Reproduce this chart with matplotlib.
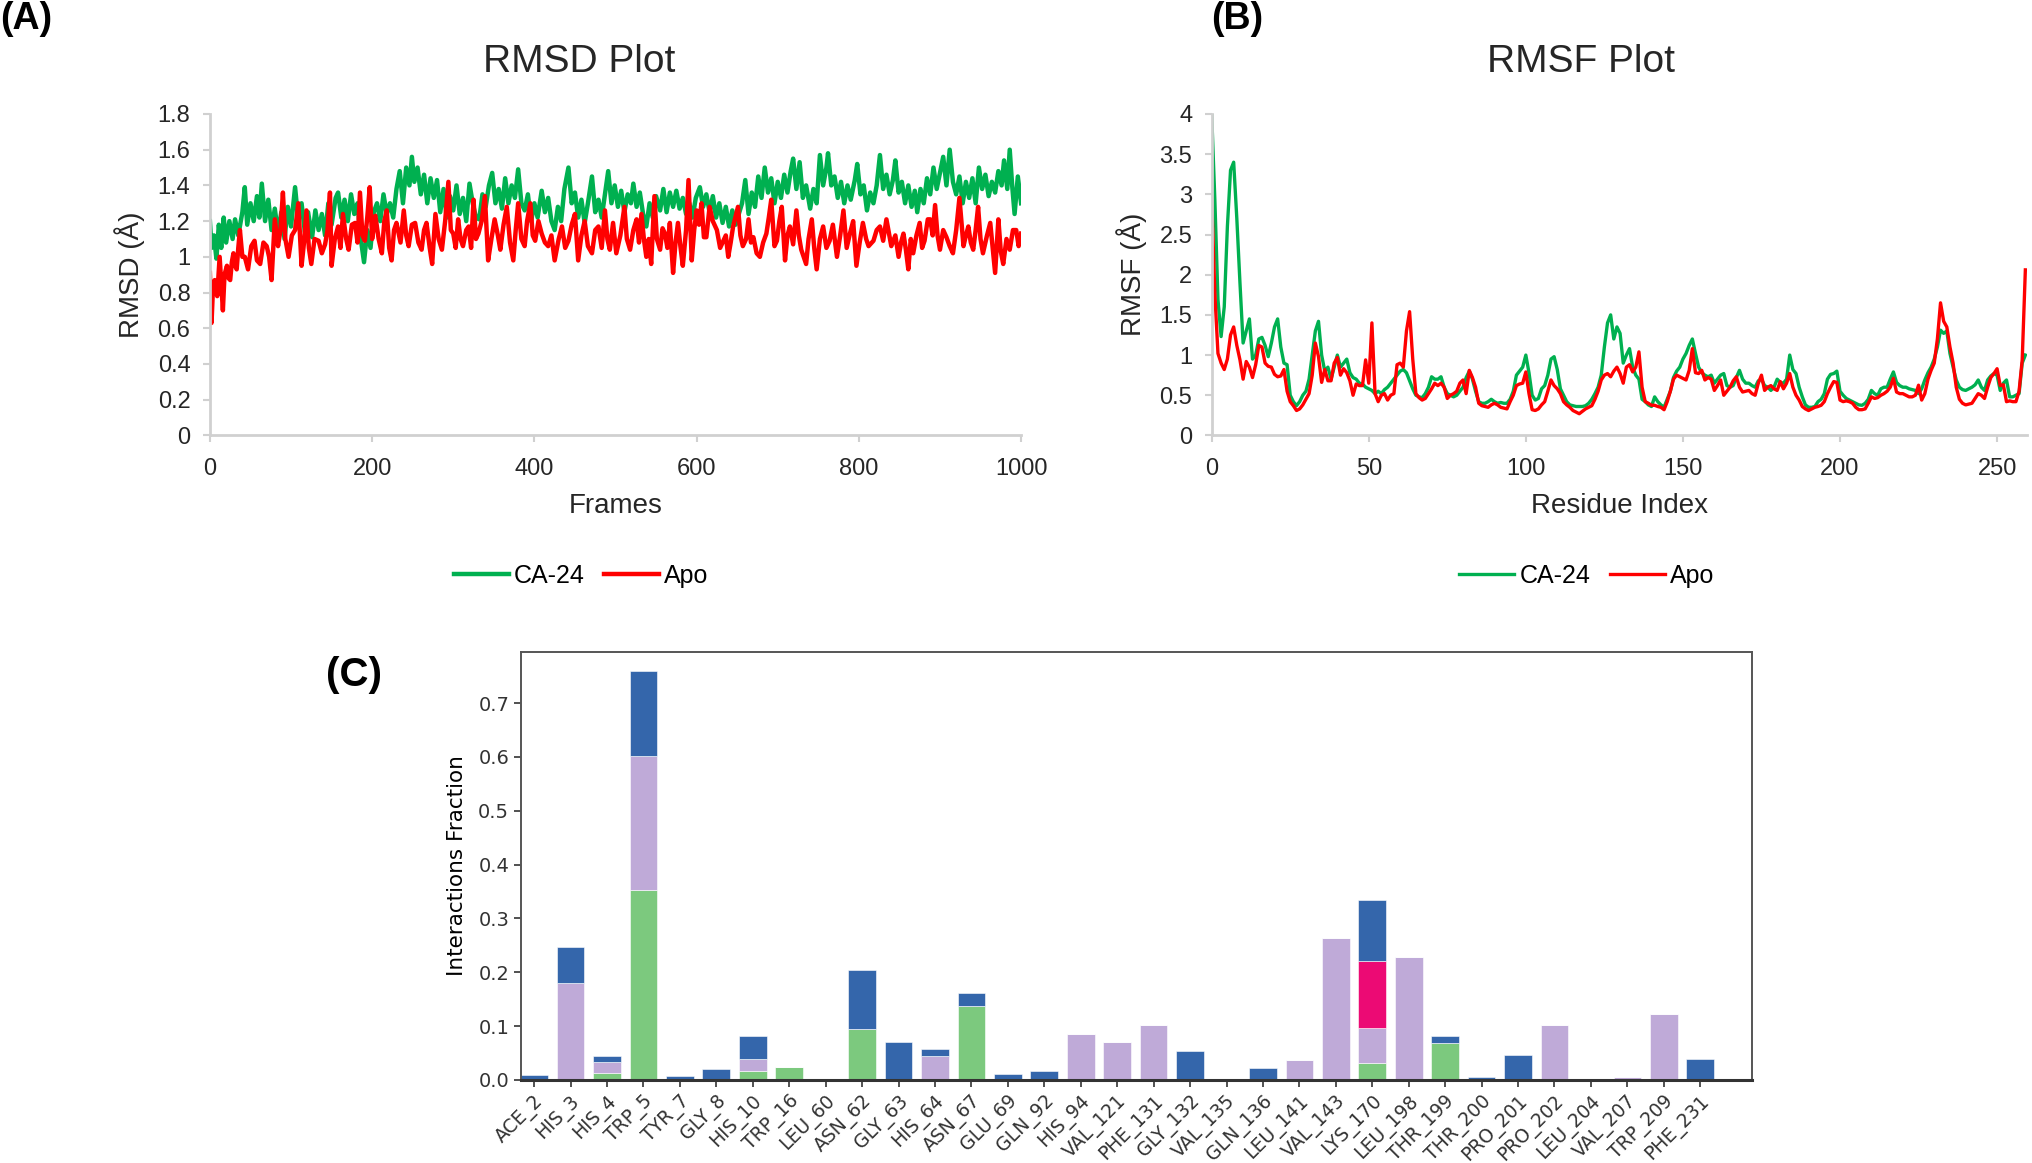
import numpy as np
import matplotlib
matplotlib.use("Agg")
import matplotlib.pyplot as plt

# ---- RMSD: (frame, value) ----
ca24_points = [
    (0, 1.20), (2, 1.05), (5, 1.12), (8, 0.99), (11, 1.18), (14, 1.05), (17, 1.22), (20, 1.08), (24, 1.20), (28, 1.10),
    (31, 1.21), (35, 1.12), (40, 1.25), (43, 1.39), (46, 1.18), (50, 1.30), (54, 1.20), (58, 1.34), (61, 1.22), (64, 1.41),
    (68, 1.20), (72, 1.32), (76, 1.15), (80, 1.27), (84, 1.13), (88, 1.25), (92, 1.10), (96, 1.28), (100, 1.17), (105, 1.39),
    (109, 1.20), (113, 1.30), (117, 1.14), (121, 1.25), (126, 1.11), (130, 1.26), (134, 1.15), (138, 1.24), (142, 1.12), (146, 1.30),
    (150, 1.18), (155, 1.33), (158, 1.36), (162, 1.22), (166, 1.32), (170, 1.20), (174, 1.35), (178, 1.24), (182, 1.30), (186, 1.10),
    (190, 0.97), (194, 1.15), (198, 1.05), (202, 1.25), (206, 1.30), (210, 1.20), (214, 1.35), (218, 1.24), (222, 1.30), (226, 1.22),
    (230, 1.38), (234, 1.48), (238, 1.30), (242, 1.50), (246, 1.40), (249, 1.56), (252, 1.42), (256, 1.50), (260, 1.35), (264, 1.46),
    (268, 1.30), (272, 1.44), (276, 1.33), (280, 1.43), (284, 1.25), (288, 1.38), (292, 1.22), (296, 1.34), (300, 1.26), (304, 1.40),
    (308, 1.24), (312, 1.33), (316, 1.20), (320, 1.41), (324, 1.30), (328, 1.22), (332, 1.21), (336, 1.35), (340, 1.28), (344, 1.40),
    (348, 1.47), (352, 1.30), (356, 1.38), (360, 1.27), (364, 1.44), (368, 1.30), (372, 1.40), (376, 1.33), (380, 1.49), (384, 1.30),
    (388, 1.26), (392, 1.35), (396, 1.20), (400, 1.30), (404, 1.22), (409, 1.37), (413, 1.25), (417, 1.33), (421, 1.20), (425, 1.15),
    (429, 1.28), (433, 1.20), (437, 1.38), (442, 1.50), (446, 1.30), (450, 1.36), (454, 1.22), (458, 1.32), (462, 1.19), (466, 1.30),
    (471, 1.45), (475, 1.25), (479, 1.32), (483, 1.22), (487, 1.35), (491, 1.48), (495, 1.30), (499, 1.40), (503, 1.28), (507, 1.37),
    (511, 1.25), (515, 1.35), (519, 1.30), (522, 1.41), (526, 1.28), (530, 1.36), (534, 1.24), (538, 1.17), (542, 1.30), (546, 1.22),
    (550, 1.34), (555, 1.26), (559, 1.38), (563, 1.25), (567, 1.36), (571, 1.28), (575, 1.37), (579, 1.27), (583, 1.33), (587, 1.24),
    (591, 1.30), (595, 1.22), (599, 1.33), (604, 1.39), (608, 1.28), (612, 1.35), (616, 1.25), (620, 1.34), (624, 1.22), (628, 1.30),
    (632, 1.19), (636, 1.28), (640, 1.17), (644, 1.26), (648, 1.18), (652, 1.24), (656, 1.30), (660, 1.43), (664, 1.24), (668, 1.36),
    (672, 1.28), (676, 1.45), (680, 1.33), (684, 1.50), (688, 1.36), (692, 1.44), (696, 1.30), (700, 1.42), (704, 1.33), (708, 1.46),
    (712, 1.36), (716, 1.48), (719, 1.55), (723, 1.38), (727, 1.53), (731, 1.33), (735, 1.40), (740, 1.27), (744, 1.38), (748, 1.30),
    (752, 1.57), (756, 1.40), (760, 1.50), (762, 1.58), (766, 1.40), (770, 1.45), (774, 1.33), (778, 1.42), (782, 1.30), (786, 1.40),
    (790, 1.32), (795, 1.43), (798, 1.52), (802, 1.35), (806, 1.40), (810, 1.26), (814, 1.36), (818, 1.30), (822, 1.40), (826, 1.57),
    (830, 1.38), (834, 1.46), (838, 1.35), (842, 1.43), (845, 1.54), (849, 1.36), (853, 1.42), (857, 1.30), (861, 1.40), (865, 1.28),
    (869, 1.37), (872, 1.25), (876, 1.38), (880, 1.30), (884, 1.44), (888, 1.35), (892, 1.50), (896, 1.38), (900, 1.47), (904, 1.56),
    (908, 1.40), (912, 1.60), (916, 1.42), (920, 1.35), (924, 1.45), (928, 1.30), (932, 1.42), (936, 1.33), (940, 1.44), (944, 1.30),
    (948, 1.50), (952, 1.38), (956, 1.46), (960, 1.34), (964, 1.42), (968, 1.36), (972, 1.48), (976, 1.40), (979, 1.54), (983, 1.38),
    (986, 1.60), (989, 1.40), (992, 1.24), (996, 1.45), (1000, 1.30),
]
apo_points = [
    (0, 0.91), (2, 0.63), (4, 0.85), (6, 0.87), (9, 0.78), (12, 1.00), (14, 0.85), (16, 0.70), (18, 0.90), (21, 0.95),
    (23, 0.88), (25, 0.87), (27, 0.97), (29, 1.02), (31, 0.95), (33, 0.93), (35, 1.05), (37, 1.15), (40, 1.00), (43, 1.00),
    (47, 0.93), (51, 1.06), (55, 1.09), (58, 0.98), (62, 0.96), (66, 1.08), (70, 1.06), (73, 1.00), (76, 0.87), (80, 1.21),
    (84, 1.06), (87, 1.15), (90, 1.36), (93, 1.10), (97, 1.00), (101, 1.12), (105, 1.15), (109, 1.30), (113, 0.95), (116, 1.08),
    (119, 1.26), (122, 1.05), (125, 0.96), (129, 1.10), (134, 1.09), (138, 1.02), (142, 1.07), (145, 1.15), (148, 1.36), (150, 0.95),
    (154, 1.10), (158, 1.17), (161, 1.05), (164, 1.24), (168, 1.10), (171, 1.04), (175, 1.18), (179, 1.19), (182, 1.08), (185, 1.36),
    (188, 1.12), (191, 1.09), (194, 1.22), (197, 1.39), (200, 1.10), (204, 1.23), (208, 1.10), (212, 1.02), (215, 1.20), (218, 1.26),
    (221, 1.05), (224, 0.98), (227, 1.15), (230, 1.19), (235, 1.08), (239, 1.26), (242, 1.12), (245, 1.06), (249, 1.18), (253, 1.19),
    (257, 1.08), (261, 1.04), (264, 1.15), (267, 1.19), (271, 1.05), (274, 0.96), (278, 1.24), (282, 1.10), (286, 1.04), (290, 1.20),
    (294, 1.42), (297, 1.15), (300, 1.13), (303, 1.05), (306, 1.21), (309, 1.10), (312, 1.06), (316, 1.15), (319, 1.17), (322, 1.05),
    (325, 1.32), (328, 1.10), (331, 1.13), (335, 1.20), (339, 1.34), (343, 0.98), (347, 1.10), (351, 1.21), (355, 1.12), (358, 1.04),
    (362, 1.18), (366, 1.28), (370, 1.08), (374, 0.98), (377, 1.15), (380, 1.30), (384, 1.10), (388, 1.06), (391, 1.20), (395, 1.30),
    (398, 1.12), (401, 1.09), (405, 1.20), (409, 1.13), (413, 1.08), (417, 1.06), (421, 1.12), (425, 0.98), (430, 1.10), (434, 1.17),
    (438, 1.05), (442, 1.09), (446, 1.18), (450, 1.24), (454, 0.98), (458, 1.12), (462, 1.20), (466, 1.06), (471, 1.02), (475, 1.15),
    (479, 1.17), (483, 1.05), (487, 1.26), (490, 1.10), (493, 1.04), (497, 1.19), (501, 1.02), (506, 1.12), (511, 1.28), (514, 1.10),
    (518, 1.04), (522, 1.15), (526, 1.21), (529, 1.08), (532, 1.24), (535, 1.10), (538, 1.00), (541, 1.10), (544, 0.96), (548, 1.34),
    (551, 1.10), (555, 1.04), (558, 1.16), (561, 1.13), (564, 1.05), (567, 1.19), (571, 0.91), (574, 1.08), (577, 1.19), (580, 1.06),
    (583, 0.95), (587, 1.15), (590, 1.43), (594, 0.98), (597, 1.15), (600, 1.26), (603, 1.18), (606, 1.30), (609, 1.11), (612, 1.11),
    (616, 1.28), (620, 1.20), (625, 1.15), (629, 1.05), (633, 1.09), (636, 1.12), (639, 1.00), (642, 1.08), (645, 1.17), (651, 1.28),
    (654, 1.12), (657, 1.06), (661, 1.10), (664, 1.21), (667, 1.08), (670, 1.11), (674, 1.02), (678, 1.00), (682, 1.08), (686, 1.13),
    (689, 1.22), (692, 1.32), (696, 1.06), (699, 1.09), (702, 1.20), (705, 1.28), (709, 0.98), (712, 1.12), (715, 1.17), (719, 1.07),
    (723, 1.26), (726, 1.12), (729, 1.04), (735, 0.96), (738, 1.10), (742, 1.21), (745, 1.05), (748, 0.93), (752, 1.10), (756, 1.17),
    (760, 1.05), (764, 1.09), (768, 1.18), (773, 1.00), (777, 1.12), (781, 1.26), (785, 1.05), (789, 1.13), (793, 1.20), (797, 0.95),
    (801, 1.08), (805, 1.19), (809, 1.10), (812, 1.06), (818, 1.09), (822, 1.15), (826, 1.17), (830, 1.09), (834, 1.21), (840, 1.06),
    (845, 1.12), (849, 1.00), (852, 1.08), (855, 1.13), (858, 1.04), (861, 0.93), (864, 1.10), (867, 1.02), (871, 1.12), (875, 1.19),
    (878, 1.05), (881, 1.09), (885, 1.21), (888, 1.21), (891, 1.12), (894, 1.29), (897, 1.12), (900, 1.04), (904, 1.15), (908, 1.11),
    (912, 1.06), (916, 1.02), (920, 1.15), (924, 1.33), (929, 1.06), (932, 1.12), (935, 1.17), (938, 1.08), (941, 1.04), (944, 1.15),
    (947, 1.28), (950, 1.10), (953, 1.02), (958, 1.12), (962, 1.19), (965, 1.05), (968, 0.91), (972, 1.21), (975, 1.03), (978, 0.96),
    (982, 1.10), (986, 1.04), (990, 1.15), (994, 1.15), (997, 1.06), (1000, 1.13),
]
ca24_frames, ca24_rmsd = zip(*ca24_points)
apo_frames, apo_rmsd = zip(*apo_points)

# ---- RMSF per residue (10 residues per row, starting at 0) ----
ca24_rmsf = [
    4.0, 2.94, 1.69, 1.23, 1.6, 2.6, 3.3, 3.4, 2.7, 1.9,
    1.15, 1.3, 1.45, 0.95, 1.0, 1.2, 1.22, 1.12, 0.98, 1.15,
    1.35, 1.45, 1.1, 0.9, 0.88, 0.5, 0.42, 0.37, 0.42, 0.5,
    0.55, 0.7, 1.0, 1.3, 1.42, 1.0, 0.8, 0.85, 0.7, 0.85,
    1.0, 0.85, 0.9, 0.95, 0.78, 0.72, 0.7, 0.65, 0.64, 0.6,
    0.58, 0.56, 0.52, 0.55, 0.52, 0.57, 0.6, 0.65, 0.7, 0.75,
    0.8, 0.82, 0.78, 0.68, 0.58, 0.5, 0.48, 0.47, 0.52, 0.6,
    0.73, 0.7, 0.7, 0.73, 0.6, 0.52, 0.5, 0.48, 0.5, 0.55,
    0.6, 0.72, 0.8, 0.7, 0.55, 0.42, 0.4, 0.4, 0.42, 0.45,
    0.42, 0.4, 0.41, 0.4, 0.4, 0.45, 0.55, 0.75, 0.8, 0.85,
    1.0, 0.78, 0.5, 0.44, 0.46, 0.58, 0.62, 0.75, 0.95, 0.98,
    0.82, 0.58, 0.5, 0.42, 0.38, 0.37, 0.36, 0.36, 0.36, 0.37,
    0.4, 0.45, 0.52, 0.6, 0.75, 1.1, 1.4, 1.5, 1.2, 1.35,
    1.27, 0.9, 1.0, 1.08, 0.85, 0.75, 0.7, 0.45, 0.42, 0.38,
    0.36, 0.48, 0.42, 0.38, 0.35, 0.45, 0.55, 0.72, 0.8, 0.85,
    0.95, 1.02, 1.12, 1.2, 1.02, 0.85, 0.78, 0.75, 0.73, 0.75,
    0.65, 0.7, 0.75, 0.77, 0.62, 0.6, 0.62, 0.72, 0.81, 0.7,
    0.65, 0.65, 0.62, 0.6, 0.68, 0.7, 0.62, 0.6, 0.56, 0.6,
    0.7, 0.66, 0.65, 0.7, 1.0, 0.82, 0.77, 0.6, 0.48, 0.38,
    0.35, 0.35, 0.36, 0.42, 0.45, 0.52, 0.7, 0.76, 0.77, 0.8,
    0.55, 0.5, 0.46, 0.44, 0.42, 0.4, 0.38, 0.375, 0.4, 0.45,
    0.56, 0.52, 0.5, 0.58, 0.6, 0.6, 0.7, 0.79, 0.66, 0.62,
    0.6, 0.6, 0.58, 0.57, 0.56, 0.52, 0.58, 0.69, 0.78, 0.85,
    0.95, 1.1, 1.31, 1.27, 1.3, 1.02, 0.85, 0.69, 0.6, 0.57,
    0.56, 0.58, 0.6, 0.63, 0.69, 0.6, 0.56, 0.69, 0.74, 0.77,
    0.75, 0.56, 0.65, 0.69, 0.48, 0.48, 0.5, 0.52, 0.9, 1.0,
]
apo_rmsf = [
    2.96, 1.77, 1.02, 0.9, 0.82, 0.95, 1.25, 1.35, 1.12, 0.94,
    0.7, 0.92, 0.85, 0.72, 0.88, 1.12, 1.1, 0.9, 0.86, 0.85,
    0.76, 0.73, 0.74, 0.82, 0.55, 0.42, 0.37, 0.31, 0.33, 0.38,
    0.45, 0.52, 0.75, 1.15, 0.98, 0.66, 0.82, 0.68, 0.68, 0.9,
    0.97, 0.75, 0.83, 0.78, 0.68, 0.5, 0.64, 0.62, 0.62, 0.94,
    0.65, 1.40, 0.52, 0.42, 0.5, 0.52, 0.44, 0.5, 0.52, 0.88,
    0.9, 0.85, 1.3, 1.54, 0.95, 0.52, 0.47, 0.44, 0.46, 0.52,
    0.58, 0.65, 0.62, 0.65, 0.6, 0.46, 0.5, 0.52, 0.55, 0.65,
    0.69, 0.52, 0.81, 0.72, 0.6, 0.4, 0.37, 0.36, 0.35, 0.38,
    0.4, 0.38, 0.35, 0.34, 0.33, 0.42, 0.5, 0.62, 0.64, 0.65,
    0.79, 0.52, 0.32, 0.31, 0.33, 0.38, 0.42, 0.55, 0.69, 0.62,
    0.58, 0.52, 0.42, 0.38, 0.35, 0.31, 0.29, 0.27, 0.3, 0.33,
    0.35, 0.37, 0.45, 0.55, 0.69, 0.75, 0.77, 0.73, 0.8, 0.85,
    0.77, 0.65, 0.85, 0.88, 0.79, 0.85, 1.04, 0.6, 0.42, 0.4,
    0.375, 0.375, 0.36, 0.35, 0.32, 0.42, 0.55, 0.7, 0.75, 0.73,
    0.71, 0.69, 0.81, 1.08, 0.78, 0.77, 0.81, 0.69, 0.72, 0.7,
    0.56, 0.62, 0.69, 0.5, 0.55, 0.6, 0.68, 0.73, 0.6, 0.54,
    0.55, 0.56, 0.52, 0.5, 0.65, 0.75, 0.56, 0.6, 0.62, 0.58,
    0.56, 0.67, 0.58, 0.65, 0.77, 0.6, 0.5, 0.44, 0.36, 0.33,
    0.31, 0.33, 0.35, 0.36, 0.375, 0.42, 0.52, 0.6, 0.67, 0.66,
    0.44, 0.42, 0.43, 0.42, 0.4, 0.35, 0.32, 0.32, 0.33, 0.4,
    0.48, 0.46, 0.47, 0.5, 0.52, 0.55, 0.6, 0.71, 0.54, 0.52,
    0.52, 0.5, 0.48, 0.48, 0.5, 0.625, 0.44, 0.52, 0.7, 0.81,
    0.9, 1.2, 1.65, 1.42, 1.35, 1.1, 0.9, 0.6, 0.45, 0.4,
    0.38, 0.39, 0.4, 0.46, 0.52, 0.5, 0.46, 0.6, 0.72, 0.77,
    0.83, 0.62, 0.63, 0.42, 0.43, 0.42, 0.42, 0.55, 0.94, 2.06,
]
residues = list(range(len(ca24_rmsf)))

# ---- Protein-ligand contact fractions (11 per row) ----
contacts = ['ACE_2', 'HIS_3', 'HIS_4', 'TRP_5', 'TYR_7', 'GLY_8', 'HIS_10', 'TRP_16', 'LEU_60', 'ASN_62', 'GLY_63',
            'HIS_64', 'ASN_67', 'GLU_69', 'GLN_92', 'HIS_94', 'VAL_121', 'PHE_131', 'GLY_132', 'VAL_135', 'GLN_136', 'LEU_141',
            'VAL_143', 'LYS_170', 'LEU_198', 'THR_199', 'THR_200', 'PRO_201', 'PRO_202', 'LEU_204', 'VAL_207', 'TRP_209', 'PHE_231']
hbonds = [0, 0, 0.013, 0.353, 0, 0, 0.017, 0.025, 0, 0.095, 0,
          0, 0.137, 0, 0, 0, 0, 0, 0, 0, 0, 0,
          0, 0.032, 0, 0.069, 0, 0, 0, 0, 0, 0, 0]
hydrophobic = [0, 0.18, 0.02, 0.249, 0, 0, 0.022, 0, 0, 0, 0,
               0.045, 0, 0, 0, 0.085, 0.07, 0.103, 0, 0, 0, 0.037,
               0.264, 0.064, 0.228, 0, 0, 0, 0.103, 0, 0.005, 0.122, 0]
ionic = [0, 0, 0, 0, 0, 0, 0, 0, 0, 0, 0,
         0, 0, 0, 0, 0, 0, 0, 0, 0, 0, 0,
         0, 0.125, 0, 0, 0, 0, 0, 0, 0, 0, 0]
water_bridges = [0.01, 0.067, 0.011, 0.157, 0.008, 0.02, 0.043, 0, 0, 0.11, 0.07,
                 0.012, 0.024, 0.012, 0.017, 0, 0, 0, 0.054, 0, 0.022, 0,
                 0, 0.114, 0, 0.012, 0.005, 0.046, 0, 0, 0, 0, 0.039]

rmsd_yticks = [0, 0.2, 0.4, 0.6, 0.8, 1.0, 1.2, 1.4, 1.6, 1.8]
rmsd_ytick_labels = ['0', '0.2', '0.4', '0.6', '0.8', '1', '1.2', '1.4', '1.6', '1.8']
rmsf_yticks = [0, 0.5, 1, 1.5, 2, 2.5, 3, 3.5, 4]
rmsf_ytick_labels = ['0', '0.5', '1', '1.5', '2', '2.5', '3', '3.5', '4']
frac_yticks = [0, 0.1, 0.2, 0.3, 0.4, 0.5, 0.6, 0.7]
frac_ytick_labels = ['0.0', '0.1', '0.2', '0.3', '0.4', '0.5', '0.6', '0.7']

GREEN = '#00b050'
RED = '#ff0000'
AXIS_GREY = '#d0d0d0'
TXT = '#262626'
SANS = 'Liberation Sans'

fig = plt.figure(figsize=(20.32, 11.63), dpi=100)


def style_excel(ax):
    for s in ['top', 'right']:
        ax.spines[s].set_visible(False)
    for s in ['left', 'bottom']:
        ax.spines[s].set_color(AXIS_GREY)
        ax.spines[s].set_linewidth(2)
    ax.tick_params(colors=AXIS_GREY, labelcolor=TXT, labelsize=17, length=5, width=1.5)
    ax.tick_params(axis='x', pad=11)
    ax.tick_params(axis='y', pad=9)
    for lab in ax.get_xticklabels() + ax.get_yticklabels():
        lab.set_fontfamily(SANS)


# (A) RMSD
ax1 = fig.add_axes([0.1033, 0.6256, 0.3992, 0.2764])
ax1.plot(ca24_frames, ca24_rmsd, color=GREEN, lw=3.2, label='CA-24')
ax1.plot(apo_frames, apo_rmsd, color=RED, lw=3.2, label='Apo')
ax1.set_xlim(0, 1000)
ax1.set_ylim(0, 1.8)
ax1.set_xticks([0, 200, 400, 600, 800, 1000])
ax1.set_yticks(rmsd_yticks)
ax1.set_yticklabels(rmsd_ytick_labels)
style_excel(ax1)
fig.text(0.064, 0.764, 'RMSD (Å)', rotation=90, ha='center', va='center', fontsize=20,
         family=SANS, color=TXT)
fig.text(0.303, 0.565, 'Frames', ha='center', va='center', fontsize=20, family=SANS, color=TXT)
fig.text(0.285, 0.947, 'RMSD Plot', ha='center', va='center', fontsize=28, family=SANS, color=TXT)
fig.text(0.0, 0.984, '(A)', ha='left', va='center', fontsize=27, family=SANS, weight='bold')
h, l = ax1.get_legend_handles_labels()
fig.legend(h, l, loc='center', bbox_to_anchor=(0.286, 0.505), ncol=2, frameon=False,
           prop={'family': SANS, 'size': 18}, handlelength=2.2, handletextpad=0.2, columnspacing=0.8)

# (B) RMSF
ax2 = fig.add_axes([0.5963, 0.6256, 0.4012, 0.2764])
ax2.plot(residues, ca24_rmsf, color=GREEN, lw=2.4, label='CA-24')
ax2.plot(residues, apo_rmsf, color=RED, lw=2.4, label='Apo')
ax2.set_xlim(0, 259.5)
ax2.set_ylim(0, 4)
ax2.set_xticks([0, 50, 100, 150, 200, 250])
ax2.set_yticks(rmsf_yticks)
ax2.set_yticklabels(rmsf_ytick_labels)
style_excel(ax2)
fig.text(0.557, 0.764, 'RMSF (Å)', rotation=90, ha='center', va='center', fontsize=20,
         family=SANS, color=TXT)
fig.text(0.797, 0.565, 'Residue Index', ha='center', va='center', fontsize=20, family=SANS, color=TXT)
fig.text(0.778, 0.947, 'RMSF Plot', ha='center', va='center', fontsize=28, family=SANS, color=TXT)
fig.text(0.609, 0.984, '(B)', ha='center', va='center', fontsize=27, family=SANS, weight='bold')
h, l = ax2.get_legend_handles_labels()
fig.legend(h, l, loc='center', bbox_to_anchor=(0.781, 0.505), ncol=2, frameon=False,
           prop={'family': SANS, 'size': 18}, handlelength=2.2, handletextpad=0.2, columnspacing=0.8)

# (C) interaction fractions, stacked
ax3 = fig.add_axes([0.2564, 0.0714, 0.6058, 0.368])
x = np.arange(len(contacts))
hb = np.array(hbonds)
hy = np.array(hydrophobic)
io = np.array(ionic)
wb = np.array(water_bridges)
ax3.bar(x, hb, width=0.76, color='#7cc97e', edgecolor='white', linewidth=0.4)
ax3.bar(x, hy, width=0.76, bottom=hb, color='#bfaad8', edgecolor='white', linewidth=0.4)
ax3.bar(x, io, width=0.76, bottom=hb + hy, color='#ec0a74', edgecolor='white', linewidth=0.4)
ax3.bar(x, wb, width=0.76, bottom=hb + hy + io, color='#3466ab', edgecolor='white', linewidth=0.4)
ax3.set_xlim(-0.36, len(contacts) - 1 + 1.42)
ax3.set_ylim(0, 0.795)
ax3.set_yticks(frac_yticks)
ax3.set_yticklabels(frac_ytick_labels)
ax3.set_xticks(x)
ax3.set_xticklabels(contacts, rotation=45, ha='right', rotation_mode='anchor')
ax3.tick_params(axis='both', labelsize=14, length=5, width=1.2, colors='#333333')
ax3.tick_params(axis='x', labelsize=13.5)
for s in ax3.spines.values():
    s.set_color('#555555')
    s.set_linewidth(1.4)
ax3.spines['bottom'].set_color('#333333')
ax3.spines['bottom'].set_linewidth(2.2)
ax3.set_ylabel('Interactions Fraction', fontsize=15.5, labelpad=8)
fig.text(0.174, 0.42, '(C)', ha='center', va='center', fontsize=29, family=SANS, weight='bold')

fig.savefig('out.png', dpi=100)
